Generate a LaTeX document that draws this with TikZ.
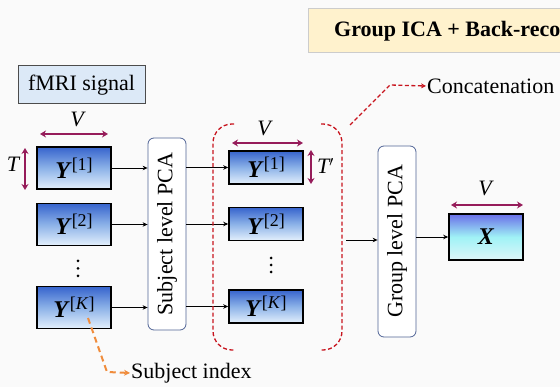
\documentclass[tikz,border=0pt]{standalone}
\usepackage{fontspec}
\setmainfont{Liberation Serif}
\usetikzlibrary{arrows.meta}
\definecolor{bgc}{RGB}{250,250,250}
\definecolor{dimc}{RGB}{150,28,90}
\definecolor{redd}{RGB}{200,20,30}
\definecolor{orad}{RGB}{240,140,60}
\definecolor{titlec}{RGB}{255,242,205}
\definecolor{pcab}{RGB}{80,100,150}
\definecolor{ytop}{RGB}{55,100,205}
\definecolor{ymid}{RGB}{140,178,232}
\definecolor{ybot}{RGB}{228,240,252}
\definecolor{xtop}{RGB}{105,110,232}
\definecolor{xmid}{RGB}{160,242,246}
\definecolor{xbot}{RGB}{222,246,248}
\newcommand{\bigtxt}{\fontsize{22}{26}\selectfont}
\newcommand{\ylab}[1]{{\fontsize{24}{26}\selectfont\textbf{\textit{Y}}}\raisebox{0.36em}{\fontsize{18}{18}\selectfont[#1]}}
\tikzset{
  ybox/.style={draw=black, line width=1.6pt, minimum width=74pt, top color=ytop, bottom color=ybot, middle color=ymid, inner sep=0pt, font=\bigtxt},
  pcabox/.style={draw=pcab, line width=0.8pt, rounded corners=6pt, fill=white, minimum width=38pt, inner sep=0pt},
  dimarrow/.style={draw=dimc, line width=1.6pt, {Stealth[length=6pt,width=7pt]}-{Stealth[length=6pt,width=7pt]}},
  flow/.style={draw=black, line width=0.8pt, -{Stealth[length=5pt,width=4.5pt]}},
  reddash/.style={draw=redd, line width=1.3pt, dash pattern=on 4pt off 2.5pt},
  oradash/.style={draw=orad, line width=2pt, dash pattern=on 6pt off 4pt},
  lbl/.style={font=\bigtxt, inner sep=1pt},
  dotc/.style={fill=black, radius=1.5pt}
}
\begin{document}
\begin{tikzpicture}[x=1pt,y=-1pt]
\clip (0,0) rectangle (560,387);
\fill[bgc] (0,0) rectangle (560,387);
% title
\node[draw=black!20, fill=titlec, line width=0.6pt, minimum width=270pt, minimum height=44pt, anchor=north west, inner sep=0pt] (title) at (308,8) {};
\node[lbl, anchor=west, font=\bigtxt\bfseries] (titletxt) at (333,31) {Group ICA + Back-reco};
% fMRI signal
\node[draw=black!70, fill={rgb,255:red,220;green,233;blue,247}, line width=1pt, minimum width=127pt, minimum height=38pt, inner sep=0pt, font=\bigtxt] (fmri) at (81.5,85) {fMRI signal};
% first column
\node[ybox, minimum height=42pt] (y1) at (74,168) {\ylab{1}};
\node[ybox, minimum height=42pt] (y2) at (74,224.5) {\ylab{2}};
\node[ybox, minimum height=42pt] (yk) at (74,307.5) {\ylab{\textit{K}}};
\fill[dotc] (78,261) circle; \fill[dotc] (78,268.5) circle; \fill[dotc] (78,276) circle;
% dims column 1
\coordinate (v1a) at (40,134); \coordinate (v1b) at (108,134);
\draw[dimarrow] (v1a) -- (v1b);
\node[lbl, font=\bigtxt\itshape] (v1) at (77,119) {V};
\coordinate (t1a) at (25,148); \coordinate (t1b) at (25,190);
\draw[dimarrow] (t1a) -- (t1b);
\node[lbl, font=\bigtxt\itshape] (t1) at (13,164) {T};
% subject PCA
\node[pcabox, minimum height=192pt] (spca) at (167,234) {};
\node[lbl, rotate=90] (spcat) at (spca.center) {Subject level PCA};
\draw[flow] (y1.east) -- (spca.west |- y1.east);
\draw[flow] (y2.east) -- (spca.west |- y2.east);
\draw[flow] (yk.east) -- (spca.west |- yk.east);
% second column
\node[ybox, minimum height=33pt] (z1) at (266,167.5) {\ylab{1}};
\node[ybox, minimum height=33pt] (z2) at (266,224) {\ylab{2}};
\node[ybox, minimum height=33pt] (zk) at (266,306.5) {\ylab{\textit{K}}};
\fill[dotc] (271,258) circle; \fill[dotc] (271,265) circle; \fill[dotc] (271,272) circle;
\draw[flow] (spca.east |- z1.west) -- (z1.west);
\draw[flow] (spca.east |- z2.west) -- (z2.west);
\draw[flow] (spca.east |- zk.west) -- (zk.west);
\coordinate (v2a) at (232,143); \coordinate (v2b) at (303,143);
\draw[dimarrow] (v2a) -- (v2b);
\node[lbl, font=\bigtxt\itshape] (v2) at (264,128) {V};
\coordinate (t2a) at (311,150); \coordinate (t2b) at (311,184);
\draw[dimarrow] (t2a) -- (t2b);
\node[lbl, font=\bigtxt\itshape, anchor=west] (t2) at (316,166) {T$'$};
% bracket
\draw[reddash, rounded corners=19pt] (234,124) -- (213,124) -- (213,350) -- (234,350);
\draw[reddash, rounded corners=19pt] (321,124) -- (342,124) -- (342,350) -- (321,350);
% concatenation
\coordinate (cstart) at (350,125);
\coordinate (cbend) at (390,85);
\node[lbl, anchor=west] (concat) at (426,86) {Concatenation};
\draw[reddash, -{Stealth[length=5pt,width=5pt]}] (cstart) -- (cbend) -- (concat.west);
% group PCA
\node[pcabox, minimum height=191pt] (gpca) at (397,241.5) {};
\node[lbl, rotate=90] (gpcat) at (gpca.center) {Group level PCA};
\coordinate (catout) at (346,240);
\draw[flow] (catout) -- (gpca.west |- catout);
% X box
\node[draw=black, line width=1.6pt, minimum width=74pt, minimum height=46pt, top color=xtop, bottom color=xbot, middle color=xmid, inner sep=0pt, font=\fontsize{24}{26}\selectfont] (xb) at (486,237) {\textbf{\textit{X}}};
\draw[flow] (gpca.east |- xb.west) -- (xb.west);
\coordinate (v3a) at (451,205); \coordinate (v3b) at (523,205);
\draw[dimarrow] (v3a) -- (v3b);
\node[lbl, font=\bigtxt\itshape] (v3) at (485,188) {V};
% subject index
\coordinate (kst) at (88,318);
\coordinate (kbend) at (107,372);
\node[lbl, anchor=west] (sidx) at (130,373) {Subject index};
\draw[oradash, -{Stealth[length=6pt,width=6pt]}] (kst) -- (kbend) -- (sidx.west);
\end{tikzpicture}
\end{document}
